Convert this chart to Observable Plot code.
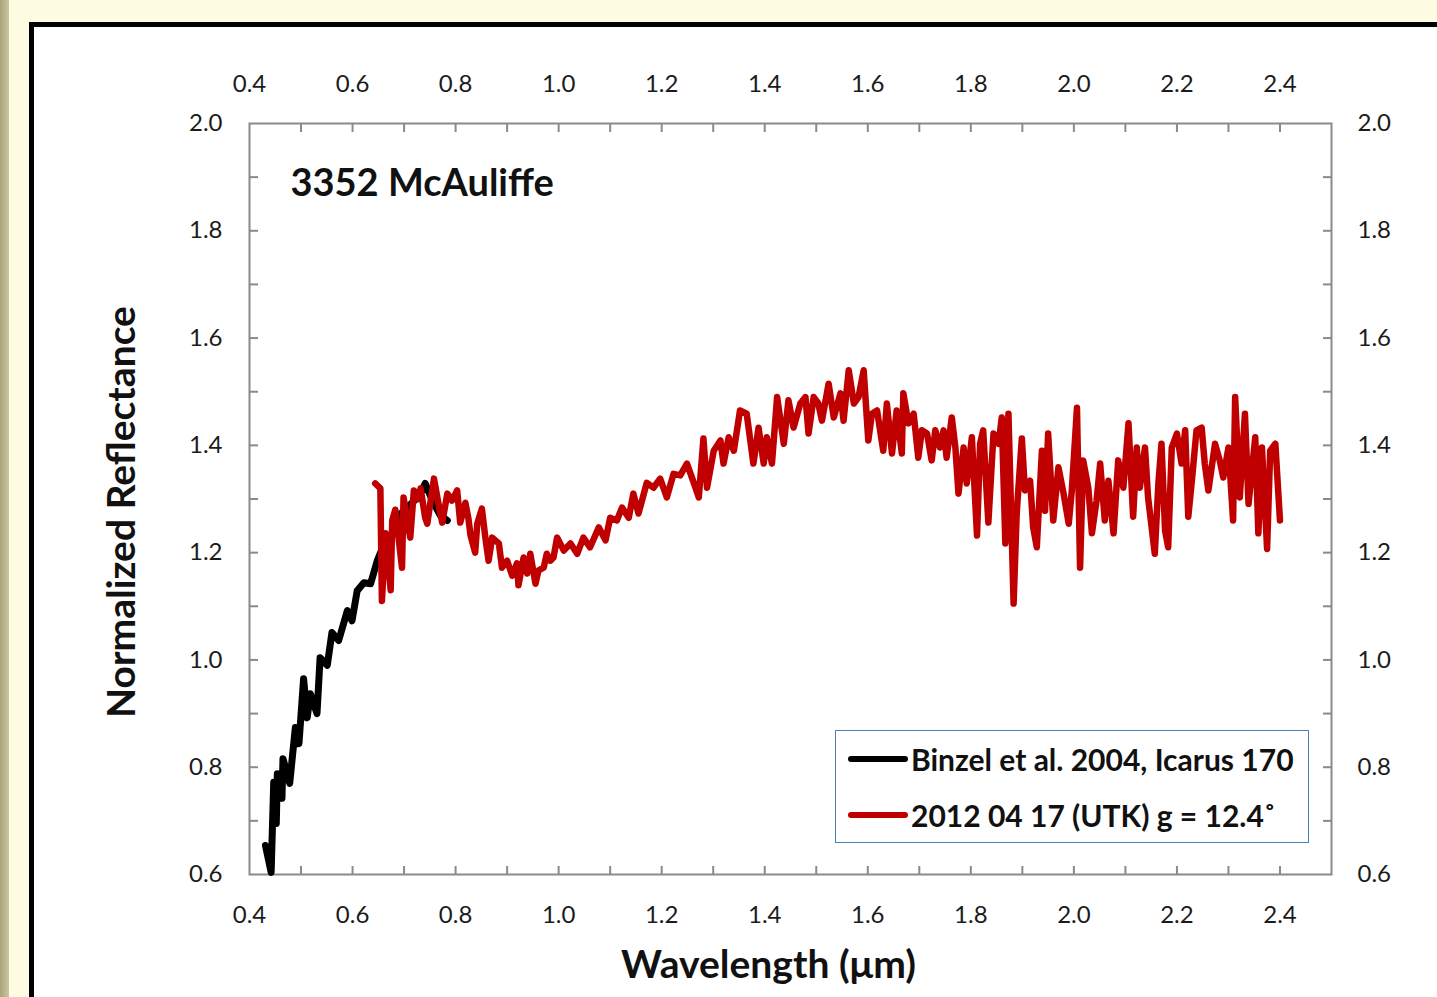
<!DOCTYPE html>
<html><head><meta charset="utf-8">
<script src="https://cdn.jsdelivr.net/npm/d3@7"></script>
<script src="https://cdn.jsdelivr.net/npm/@observablehq/plot@0.6"></script>
<style>
html,body{margin:0;padding:0;}
body{width:1437px;height:997px;overflow:hidden;background:#fdfbe1;position:relative;font-family:Lato,sans-serif;}
#stripe{position:absolute;left:0;top:0;width:9px;height:997px;background:linear-gradient(to right,#a8a37b,#cbc69c);}
#panel{position:absolute;left:29px;top:22px;width:1440px;height:1000px;background:#fff;border:5px solid #000;box-sizing:border-box;}
#chart{position:absolute;left:0;top:0;}
#legend{position:absolute;left:835px;top:730px;width:474px;height:113px;border:1.5px solid #4a7ebb;box-sizing:border-box;}
.entry{position:absolute;left:12px;height:34px;display:flex;align-items:center;font-family:Lato,sans-serif;font-weight:bold;font-size:30px;color:#111;white-space:nowrap;}
.swatch{width:60px;height:6px;margin-right:3px;border-radius:3px;}
</style></head>
<body>
<div id="stripe"></div>
<div id="panel"></div>
<div id="chart"></div>
<div id="legend">
  <div class="entry" style="top:11px"><div class="swatch" style="background:#000"></div><span>Binzel et al. 2004, Icarus 170</span></div>
  <div class="entry" style="top:67px"><div class="swatch" style="background:#c00000"></div><span>2012 04 17 (UTK) g = 12.4˚</span></div>
</div>
<script>
// Binzel et al. 2004 (black)
const binzelWl = [0.431,0.442,0.447,0.452,0.454,0.463,0.465,0.478,0.489,0.496,0.505,0.512,0.518,0.531,0.537,0.551,0.560,0.573,0.590,0.599,0.609,0.622,0.635,0.648,0.660,0.680,0.690,0.710,0.730,0.741,0.755,0.770,0.784];
const binzelRefl = [0.654,0.604,0.772,0.695,0.788,0.742,0.816,0.770,0.874,0.844,0.965,0.892,0.937,0.900,1.004,0.990,1.051,1.036,1.092,1.073,1.129,1.144,1.142,1.185,1.213,1.241,1.269,1.288,1.306,1.329,1.297,1.270,1.260];

// 2012 04 17 (UTK) (red)
const utkWl = [0.644,0.654,0.657,0.664,0.674,0.677,0.683,0.696,0.699,0.712,0.719,0.728,0.732,0.741,0.745,0.758,0.767,0.774,0.784,0.793,0.803,0.809,0.819,0.825,0.829,0.838,0.842,0.851,0.858,0.864,0.871,0.884,0.890,0.900,0.910,0.919,0.922,0.932,0.939,0.945,0.955,0.961,0.971,0.977,0.984,0.990,0.997,1.010,1.023,1.036,1.048,1.061,1.078,1.091,1.100,1.113,1.123,1.136,1.145,1.155,1.171,1.184,1.197,1.210,1.223,1.236,1.249,1.262,1.272,1.281,1.288,1.301,1.314,1.320,1.330,1.340,1.352,1.365,1.378,1.388,1.398,1.404,1.414,1.424,1.437,1.446,1.456,1.469,1.479,1.485,1.495,1.504,1.511,1.524,1.534,1.547,1.553,1.563,1.573,1.582,1.592,1.601,1.608,1.618,1.630,1.637,1.647,1.656,1.666,1.669,1.679,1.689,1.698,1.705,1.715,1.724,1.731,1.740,1.747,1.753,1.763,1.770,1.776,1.786,1.792,1.802,1.812,1.818,1.824,1.834,1.844,1.854,1.860,1.867,1.873,1.883,1.889,1.899,1.905,1.915,1.921,1.928,1.938,1.944,1.950,1.960,1.970,1.980,1.990,1.996,2.006,2.012,2.018,2.028,2.035,2.044,2.051,2.060,2.067,2.077,2.086,2.096,2.106,2.115,2.122,2.128,2.138,2.144,2.157,2.164,2.170,2.177,2.183,2.190,2.200,2.209,2.216,2.222,2.229,2.238,2.248,2.254,2.261,2.274,2.283,2.290,2.300,2.309,2.313,2.322,2.332,2.339,2.352,2.358,2.365,2.375,2.381,2.391,2.400];
const utkRefl = [1.329,1.320,1.110,1.236,1.130,1.260,1.280,1.172,1.303,1.228,1.316,1.300,1.320,1.265,1.254,1.338,1.290,1.256,1.310,1.297,1.316,1.256,1.293,1.263,1.232,1.200,1.254,1.282,1.226,1.185,1.228,1.217,1.172,1.185,1.157,1.180,1.139,1.191,1.161,1.198,1.142,1.167,1.172,1.198,1.185,1.191,1.228,1.204,1.217,1.198,1.228,1.210,1.247,1.223,1.265,1.260,1.284,1.265,1.310,1.273,1.330,1.321,1.338,1.303,1.347,1.344,1.366,1.331,1.303,1.413,1.321,1.390,1.409,1.366,1.415,1.390,1.465,1.459,1.366,1.433,1.366,1.415,1.366,1.490,1.403,1.484,1.433,1.478,1.490,1.422,1.490,1.478,1.446,1.515,1.452,1.497,1.446,1.540,1.478,1.490,1.540,1.409,1.459,1.465,1.390,1.478,1.385,1.465,1.385,1.497,1.441,1.459,1.377,1.428,1.422,1.372,1.428,1.396,1.428,1.377,1.452,1.396,1.310,1.396,1.329,1.415,1.232,1.403,1.428,1.256,1.422,1.403,1.452,1.217,1.459,1.105,1.273,1.413,1.316,1.334,1.247,1.210,1.390,1.278,1.422,1.260,1.359,1.310,1.254,1.316,1.470,1.172,1.372,1.321,1.236,1.297,1.366,1.260,1.334,1.236,1.372,1.321,1.441,1.267,1.396,1.321,1.396,1.303,1.198,1.329,1.403,1.241,1.210,1.396,1.422,1.366,1.428,1.267,1.334,1.428,1.433,1.366,1.316,1.403,1.372,1.340,1.396,1.260,1.490,1.303,1.459,1.291,1.415,1.236,1.396,1.207,1.390,1.403,1.260];

const xMajor = [0.4,0.6,0.8,1.0,1.2,1.4,1.6,1.8,2.0,2.2,2.4];
const xMinor = [0.5,0.6,0.7,0.8,0.9,1.0,1.1,1.2,1.3,1.4,1.5,1.6,1.7,1.8,1.9,2.0,2.1,2.2,2.3,2.4];
const yMajor = [0.6,0.8,1.0,1.2,1.4,1.6,1.8,2.0];
const yMinor = [0.7,0.8,0.9,1.0,1.1,1.2,1.3,1.4,1.5,1.6,1.7,1.8,1.9];

const binzel = binzelWl.map((w,i)=>({w, r: binzelRefl[i]}));
const utk = utkWl.map((w,i)=>({w, r: utkRefl[i]}));

const gray = "#8a8a8a";
const txt = "#1b1b1b";
const fmt = d => d.toFixed(1);

const chart = Plot.plot({
  width: 1437, height: 997,
  marginLeft: 249, marginRight: 106, marginTop: 123, marginBottom: 123,
  x: {domain: [0.4, 2.5], label: null},
  y: {domain: [0.6, 2.0], label: null},
  style: {background: "transparent", fontFamily: "Lato, sans-serif"},
  marks: [
    Plot.axisX(xMinor, {anchor: "top", tickSize: 8, dy: 8, tickFormat: () => "", stroke: gray, strokeWidth: 2, label: null}),
    Plot.axisX(xMinor, {anchor: "bottom", tickSize: 8, dy: -8, tickFormat: () => "", stroke: gray, strokeWidth: 2, label: null}),
    Plot.axisY(yMinor, {anchor: "left", tickSize: 9, dx: 9, tickFormat: () => "", stroke: gray, strokeWidth: 2, label: null}),
    Plot.axisY(yMinor, {anchor: "right", tickSize: 9, dx: -9, tickFormat: () => "", stroke: gray, strokeWidth: 2, label: null}),
    Plot.axisX(xMajor, {anchor: "top", tickSize: 0, tickPadding: 32, fontSize: 24, fill: txt, tickFormat: fmt, label: null}),
    Plot.axisX(xMajor, {anchor: "bottom", tickSize: 0, tickPadding: 31, fontSize: 24, fill: txt, tickFormat: fmt, label: null}),
    Plot.axisY(yMajor, {anchor: "left", tickSize: 0, tickPadding: 27, fontSize: 24, fill: txt, tickFormat: fmt, label: null}),
    Plot.axisY(yMajor, {anchor: "right", tickSize: 0, tickPadding: 26, fontSize: 24, fill: txt, tickFormat: fmt, label: null}),
    Plot.frame({stroke: gray, strokeWidth: 2}),
    Plot.line(binzel, {x: "w", y: "r", stroke: "#000", strokeWidth: 7, strokeLinejoin: "round"}),
    Plot.line(utk, {x: "w", y: "r", stroke: "#c00000", strokeWidth: 6.5, strokeLinejoin: "round"}),
    Plot.text(["3352 McAuliffe"], {text: d => d, frameAnchor: "top-left", dx: 41, dy: 60, textAnchor: "start", lineAnchor: "middle", fontSize: 38, fontWeight: "bold", fill: "#111"}),
    Plot.text(["Wavelength (μm)"], {text: d => d, frameAnchor: "bottom", dx: -22, dy: 91, textAnchor: "middle", lineAnchor: "middle", fontSize: 39, fontWeight: "bold", fill: "#111"}),
    Plot.text(["Normalized Reflectance"], {text: d => d, frameAnchor: "left", dx: -127, dy: 13, rotate: -90, textAnchor: "middle", lineAnchor: "middle", fontSize: 39, fontWeight: "bold", fill: "#111"})
  ]
});
document.getElementById("chart").appendChild(chart);
</script>
</body></html>
